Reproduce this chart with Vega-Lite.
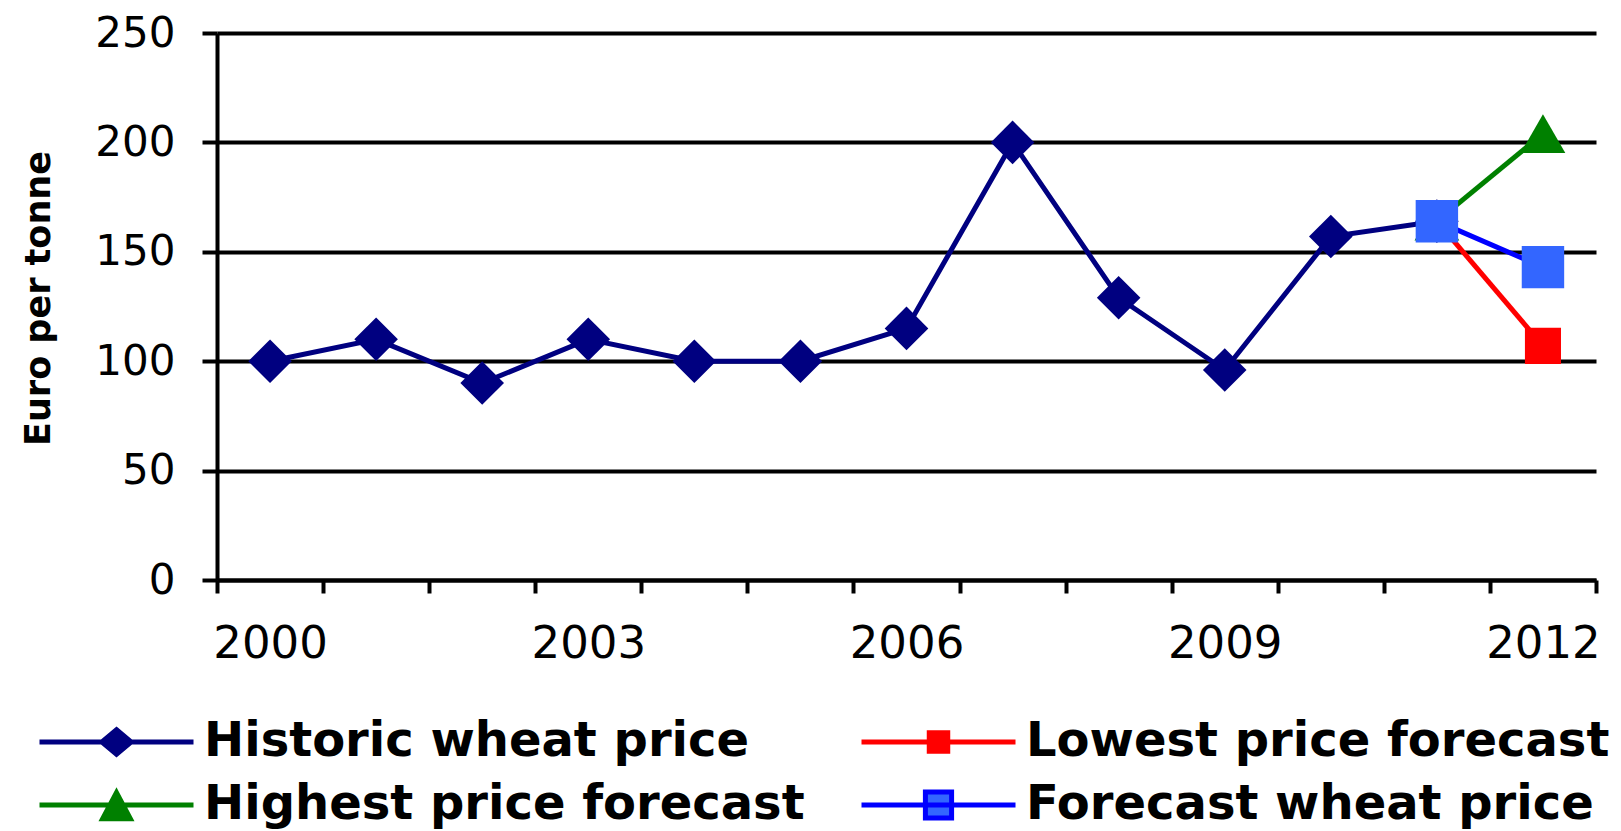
{
  "$schema": "https://vega.github.io/schema/vega-lite/v6.json",
  "width": 1379,
  "height": 547,
  "autosize": {"type": "none"},
  "padding": {"left": 217, "top": 33, "right": 25, "bottom": 251},
  "background": "white",
  "config": {
    "view": {"stroke": null},
    "font": "DejaVu Sans"
  },
  "data": {
    "values": [
      {"year": "2000", "price": 100, "series": "Historic wheat price"},
      {"year": "2001", "price": 110, "series": "Historic wheat price"},
      {"year": "2002", "price": 90, "series": "Historic wheat price"},
      {"year": "2003", "price": 110, "series": "Historic wheat price"},
      {"year": "2004", "price": 100, "series": "Historic wheat price"},
      {"year": "2005", "price": 100, "series": "Historic wheat price"},
      {"year": "2006", "price": 115, "series": "Historic wheat price"},
      {"year": "2007", "price": 200, "series": "Historic wheat price"},
      {"year": "2008", "price": 129, "series": "Historic wheat price"},
      {"year": "2009", "price": 96, "series": "Historic wheat price"},
      {"year": "2010", "price": 157, "series": "Historic wheat price"},
      {"year": "2011", "price": 164, "series": "Historic wheat price"},
      {"year": "2011", "price": 164, "series": "Lowest price forecast"},
      {"year": "2012", "price": 107, "series": "Lowest price forecast"},
      {"year": "2011", "price": 164, "series": "Highest price forecast"},
      {"year": "2012", "price": 204, "series": "Highest price forecast"},
      {"year": "2011", "price": 164, "series": "Forecast wheat price"},
      {"year": "2012", "price": 143, "series": "Forecast wheat price"}
    ]
  },
  "encoding": {
    "x": {
      "field": "year",
      "type": "ordinal",
      "bandPosition": 0.5,
      "scale": {"type": "band", "paddingInner": 0, "paddingOuter": 0,
                "domain": ["2000","2001","2002","2003","2004","2005","2006","2007","2008","2009","2010","2011","2012"]},
      "axis": {
        "title": null,
        "labelAngle": 0,
        "labelExpr": "(+datum.value - 2000) % 3 == 0 ? datum.value : ''",
        "labelOverlap": false,
        "labelFont": "DejaVu Sans",
        "labelFontSize": 45,
        "labelColor": "black",
        "labelBaseline": "top",
        "labelPadding": 28,
        "tickBand": "extent",
        "tickSize": 13,
        "tickWidth": 4,
        "tickColor": "black",
        "domainColor": "black",
        "domainWidth": 4,
        "grid": false
      }
    },
    "y": {
      "field": "price",
      "type": "quantitative",
      "scale": {"domain": [0, 250], "nice": false, "zero": true},
      "axis": {
        "title": "Euro per tonne",
        "titleFont": "DejaVu Sans",
        "titleFontWeight": "bold",
        "titleFontSize": 35,
        "titleColor": "black",
        "titlePadding": 38,
        "titleY": 265,
        "values": [0, 50, 100, 150, 200, 250],
        "labelFont": "DejaVu Sans",
        "labelFontSize": 42,
        "labelColor": "black",
        "labelPadding": 27,
        "tickSize": 15,
        "tickWidth": 4,
        "tickColor": "black",
        "domainColor": "black",
        "domainWidth": 4,
        "grid": true,
        "gridColor": "black",
        "gridWidth": 4,
        "gridOpacity": 1
      }
    }
  },
  "layer": [
    {
      "mark": {"type": "line", "strokeWidth": 5},
      "encoding": {
        "color": {
          "field": "series",
          "type": "nominal",
          "scale": {
            "domain": ["Historic wheat price", "Lowest price forecast", "Highest price forecast", "Forecast wheat price"],
            "range": ["#000080", "#FF0000", "#008000", "#0000FF"]
          },
          "legend": {
            "title": null,
            "orient": "none",
            "legendX": -180,
            "legendY": 685,
            "columns": 2,
            "direction": "horizontal",
            "padding": 0,
            "columnPadding": 46,
            "rowPadding": 15,
            "symbolSize": 23716,
            "symbolStrokeWidth": 4,
            "labelFont": "DejaVu Sans",
            "labelFontWeight": "bold",
            "labelFontSize": 48,
            "labelColor": "black",
            "labelLimit": 0,
            "labelOffset": 8,
            "encode": {
              "symbols": {
                "update": {
                  "y": {"value": 24},
                  "shape": {"signal": "datum.value === 'Historic wheat price' ? 'M-1,0L1,0M0,-0.16L0.19,0L0,0.16L-0.19,0Z' : datum.value === 'Lowest price forecast' ? 'M-1,0L1,0M-0.12,-0.12L0.12,-0.12L0.12,0.12L-0.12,0.12Z' : datum.value === 'Highest price forecast' ? 'M-1,0L1,0M0,-0.16L0.18,0.18L-0.18,0.18Z' : 'M-1,0L1,0M-0.17,-0.17L0.17,-0.17L0.17,0.17L-0.17,0.17Z'"},
                  "fill": {"signal": "datum.value === 'Historic wheat price' ? '#000080' : datum.value === 'Lowest price forecast' ? '#FF0000' : datum.value === 'Highest price forecast' ? '#008000' : '#3366FF'"},
                  "strokeWidth": {"value": 5},
                  "opacity": {"value": 1}
                }
              },
              "labels": {
                "update": {
                  "y": {"value": 24}
                }
              }
            }
          }
        }
      }
    },
    {
      "transform": [{"filter": "datum.series === 'Historic wheat price'"}],
      "mark": {"type": "point", "filled": true, "opacity": 1, "shape": "diamond", "color": "#000080", "size": 1900}
    },
    {
      "transform": [{"filter": "datum.series === 'Lowest price forecast'"}],
      "mark": {"type": "point", "filled": true, "opacity": 1, "shape": "square", "color": "#FF0000", "size": 1300}
    },
    {
      "transform": [{"filter": "datum.series === 'Highest price forecast'"}],
      "mark": {"type": "point", "filled": true, "opacity": 1, "shape": "triangle-up", "color": "#008000", "size": 2000}
    },
    {
      "transform": [{"filter": "datum.series === 'Forecast wheat price'"}],
      "mark": {"type": "point", "filled": true, "opacity": 1, "shape": "square", "color": "#3366FF", "size": 1800}
    }
  ]
}
